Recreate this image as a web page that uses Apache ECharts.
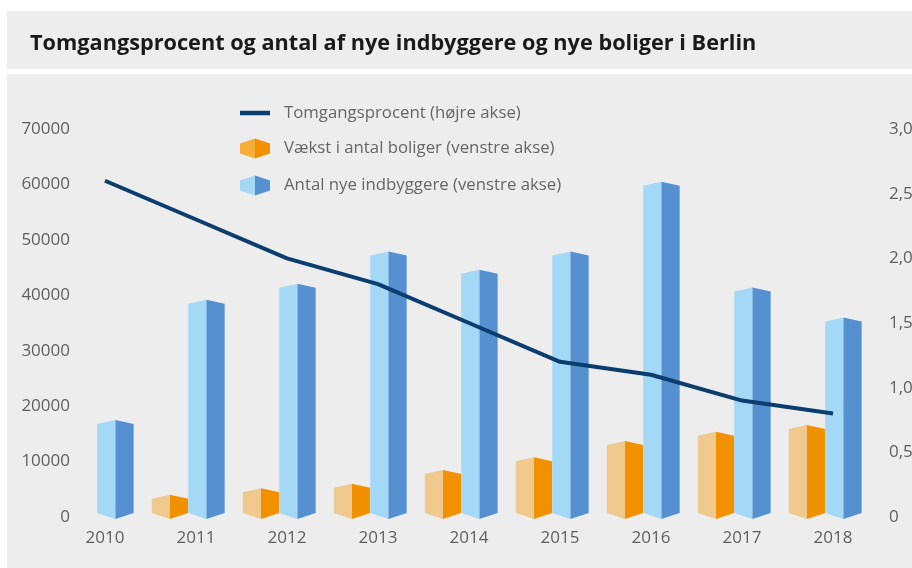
<!DOCTYPE html>
<html>
<head>
<meta charset="utf-8">
<script src="https://cdn.jsdelivr.net/npm/echarts@6/dist/echarts.min.js"></script>
<style>
html, body { margin: 0; padding: 0; background: #fff; }
#chart { width: 912px; height: 568px; }
</style>
</head>
<body>
<div id="chart"></div>
<script>
// data
var years = ['2010', '2011', '2012', '2013', '2014', '2015', '2016', '2017', '2018'];
var nyeIndbyggere = [17500, 39200, 42100, 47900, 44600, 47900, 60500, 41400, 36000];
var nyeBoliger = [null, 4000, 5200, 6000, 8500, 10800, 13700, 15400, 16600];
var tomgangsprocent = [2.6, 2.3, 2.0, 1.8, 1.5, 1.2, 1.1, 0.9, 0.8];
var hoejreTicks = ['0', '0,5', '1,0', '1,5', '2,0', '2,5', '3,0'];

var font = 'Open Sans';
var grey = '#5f5f5f';
var hexIcon = 'path://M0,5 L15,0 L30,5 L30,15 L15,20 L0,15 Z';
var lineIcon = 'path://M0,0 L30,0 L30,4.5 L0,4.5 Z';

function split(light, dark) {
  return new echarts.graphic.LinearGradient(0, 0, 1, 0, [
    { offset: 0, color: light }, { offset: 0.5, color: light },
    { offset: 0.5, color: dark }, { offset: 1, color: dark }
  ]);
}

// draws a two-faced prism bar, shifted inside the category band
function prism(light, dark, shift) {
  return function (params, api) {
    var v = api.value(1);
    if (v == null || isNaN(v)) return;
    var top = api.coord([api.value(0), v]);
    var base = api.coord([api.value(0), 0]);
    var bw = api.size([1, 0])[0];
    var w = bw * 0.2;
    var cx = top[0] + shift * bw;
    var ty = top[1], by = base[1] + 2;
    return {
      type: 'group',
      children: [
        { type: 'polygon', shape: { points: [[cx - w, ty + 4], [cx, ty], [cx, by], [cx - w, by - 6]] }, style: { fill: light } },
        { type: 'polygon', shape: { points: [[cx, ty], [cx + w, ty + 4], [cx + w, by - 6], [cx, by]] }, style: { fill: dark } }
      ]
    };
  };
}

var chart = echarts.init(document.getElementById('chart'));
chart.setOption({
  backgroundColor: '#fff',
  animation: false,
  graphic: [
    { type: 'rect', z: -10, silent: true, shape: { x: 7, y: 11, width: 905, height: 58 }, style: { fill: '#ededed' } },
    { type: 'rect', z: -10, silent: true, shape: { x: 7, y: 74, width: 905, height: 494 }, style: { fill: '#ededed' } }
  ],
  title: {
    text: 'Tomgangsprocent og antal af nye indbyggere og nye boliger i Berlin',
    left: 30, top: 31, padding: 0,
    textStyle: { fontFamily: font, fontSize: 21.7, fontWeight: 'bold', color: '#1a1a1a', lineHeight: 25 }
  },
  legend: {
    orient: 'vertical', left: 240, top: 104.5, padding: 0,
    itemWidth: 30, itemHeight: 20, itemGap: 17,
    symbolKeepAspect: true,
    textStyle: { fontFamily: font, fontSize: 16.8, color: '#666', padding: [0, 0, 0, 9] },
    data: [
      { name: 'Tomgangsprocent (højre akse)', icon: lineIcon },
      { name: 'Vækst i antal boliger (venstre akse)', icon: hexIcon },
      { name: 'Antal nye indbyggere (venstre akse)', icon: hexIcon }
    ]
  },
  grid: { left: 59.5, right: 33.5, top: 129, bottom: 51, outerBoundsMode: 'none', containLabel: false },
  xAxis: {
    type: 'category', data: years,
    axisLine: { show: false }, axisTick: { show: false },
    axisLabel: { margin: 13, fontFamily: font, fontSize: 17, color: grey }
  },
  yAxis: [
    {
      type: 'value', min: 0, max: 70000, interval: 10000,
      splitLine: { show: false }, axisLine: { show: false }, axisTick: { show: false },
      axisLabel: {
        margin: -10.5, fontFamily: font, fontSize: 17, color: grey,
        formatter: function (v) { return String(v); }
      }
    },
    {
      type: 'value', min: 0, max: 3, interval: 0.5, position: 'right',
      splitLine: { show: false }, axisLine: { show: false }, axisTick: { show: false },
      axisLabel: {
        margin: 10.5, fontFamily: font, fontSize: 17, color: grey,
        formatter: function (v) { return hoejreTicks[Math.round(v / 0.5)]; }
      }
    }
  ],
  series: [
    {
      name: 'Vækst i antal boliger (venstre akse)', type: 'custom', yAxisIndex: 0,
      itemStyle: { color: split('#f8ad37', '#f29100') },
      renderItem: prism('#f0c98f', '#f29100', -0.286),
      data: nyeBoliger.map(function (v, i) { return [i, v]; })
    },
    {
      name: 'Antal nye indbyggere (venstre akse)', type: 'custom', yAxisIndex: 0,
      itemStyle: { color: split('#a3d8f6', '#5591d0') },
      renderItem: prism('#a3d8f6', '#5591d0', 0.115),
      data: nyeIndbyggere.map(function (v, i) { return [i, v]; })
    },
    {
      name: 'Tomgangsprocent (højre akse)', type: 'line', yAxisIndex: 1, z: 5,
      symbol: 'none', color: '#0b3d6f',
      lineStyle: { width: 4, color: '#0b3d6f' },
      data: tomgangsprocent
    }
  ]
});
</script>
</body>
</html>
